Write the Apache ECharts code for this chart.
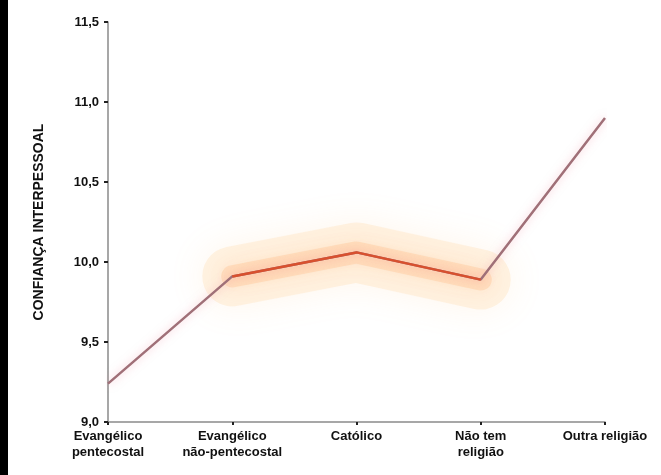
<!DOCTYPE html>
<html>
<head>
<meta charset="utf-8">
<script src="https://cdn.jsdelivr.net/npm/echarts@6/dist/echarts.min.js"></script>
<style>
  html, body { margin: 0; padding: 0; background: #fff; }
  #frame { width: 661px; height: 475px; box-sizing: border-box; border-left: 8px solid #000; }
  #chart { width: 653px; height: 475px; }
</style>
</head>
<body>
<div id="frame"><div id="chart"></div></div>
<script>
// Religious groups along the horizontal axis
const categories = [
  'Evangélico\npentecostal',
  'Evangélico\nnão-pentecostal',
  'Católico',
  'Não tem\nreligião',
  'Outra religião'
];
// Average index for each group
const values = [9.24, 9.91, 10.06, 9.89, 10.9];
// Groups highlighted by the glow band
const highlighted = [null, 9.91, 10.06, 9.89, null];
// Vertical axis range and step
const yMin = 9.0;
const yMax = 11.5;
const yStep = 0.5;
const yTitle = 'CONFIANÇA INTERPESSOAL';

const font = "'Liberation Sans', Arial, sans-serif";

const chart = echarts.init(document.getElementById('chart'));
chart.setOption({
  animation: false,
  grid: { left: 100, right: 56, top: 22, bottom: 53, containLabel: false },
  xAxis: {
    type: 'category',
    data: categories,
    boundaryGap: false,
    axisLine: { lineStyle: { color: '#8a8a8a', width: 1.5 } },
    axisTick: { show: true, length: 3, lineStyle: { color: '#222', width: 2 } },
    axisLabel: {
      color: '#111', fontFamily: font, fontWeight: 'bold', fontSize: 13,
      lineHeight: 16, margin: 6, interval: 0
    },
    splitLine: { show: false }
  },
  yAxis: {
    type: 'value',
    min: yMin, max: yMax, interval: yStep,
    name: yTitle,
    nameLocation: 'middle',
    nameGap: 62,
    nameRotate: 90,
    nameTextStyle: { color: '#111', fontFamily: font, fontWeight: 'bold', fontSize: 14 },
    axisLine: { show: true, lineStyle: { color: '#8a8a8a', width: 1.5 } },
    axisTick: { show: true, length: 4, lineStyle: { color: '#222', width: 2 } },
    axisLabel: {
      color: '#111', fontFamily: font, fontWeight: 'bold', fontSize: 13, margin: 9,
      formatter: v => v.toFixed(1).replace('.', ',')
    },
    splitLine: { show: false }
  },
  series: [
    {
      // soft orange halo behind the middle groups
      type: 'line',
      data: highlighted,
      symbol: 'none',
      z: 1,
      lineStyle: {
        width: 60, color: 'rgba(255, 205, 140, 0.22)', cap: 'round', join: 'round',
        shadowBlur: 36, shadowColor: 'rgba(255, 180, 100, 0.55)'
      }
    },
    {
      type: 'line',
      data: highlighted,
      symbol: 'none',
      z: 1,
      lineStyle: {
        width: 22, color: 'rgba(255, 175, 110, 0.25)', cap: 'round', join: 'round',
        shadowBlur: 14, shadowColor: 'rgba(255, 150, 90, 0.4)'
      }
    },
    {
      type: 'line',
      data: values,
      symbol: 'none',
      z: 2,
      lineStyle: {
        width: 2.5, color: '#a07078',
        shadowBlur: 8, shadowColor: 'rgba(240, 140, 160, 0.5)'
      }
    },
    {
      type: 'line',
      data: highlighted,
      symbol: 'none',
      z: 3,
      lineStyle: { width: 2.5, color: '#d8502e' }
    }
  ]
});
</script>
</body>
</html>
